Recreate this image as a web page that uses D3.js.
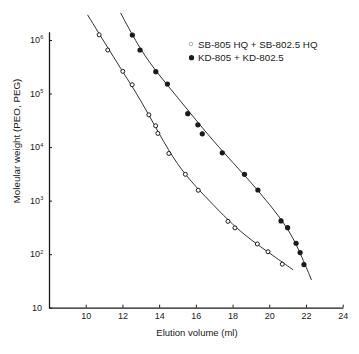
<!DOCTYPE html>
<html>
<head>
<meta charset="utf-8">
<script src="https://cdn.jsdelivr.net/npm/d3@7"></script>
<style>
  body { margin: 0; background: #fff; }
  text { font-family: "Liberation Sans", Arial, sans-serif; fill: #1a1a1a; }
</style>
</head>
<body>
<svg id="chart" width="359" height="354"></svg>
<script>
// measured points (elution volume ml, molecular weight)
const sbVolume = [10.73, 11.20, 12.02, 12.53, 13.44, 13.81, 13.93, 14.53, 15.43, 16.13, 17.75, 18.13, 19.35, 19.93, 20.71];
const sbWeight = [1.25e6, 6.5e5, 2.6e5, 1.46e5, 4.0e4, 2.5e4, 1.8e4, 7.6e3, 3.1e3, 1.56e3, 410, 310, 155, 111, 65];
const kdVolume = [12.54, 12.96, 13.82, 14.45, 15.56, 16.11, 16.35, 17.44, 18.65, 19.38, 20.64, 21.00, 21.46, 21.68, 21.89];
const kdWeight = [1.24e6, 6.5e5, 2.56e5, 1.5e5, 4.2e4, 2.6e4, 1.77e4, 7.8e3, 3.1e3, 1.58e3, 418, 313, 160, 107, 64];

// fitted calibration curves
const sbFitVolume = [10.1, 11.0, 12.0, 13.0, 14.0, 15.0, 16.0, 17.0, 18.0, 19.0, 20.0, 21.3];
const sbFitWeight = [2.95e6, 9.3e5, 2.6e5, 7.6e4, 1.75e4, 4.6e3, 1.8e3, 800, 355, 185, 105, 51];
const kdFitVolume = [11.9, 13.0, 14.0, 15.0, 16.0, 17.0, 18.0, 19.0, 20.0, 21.0, 21.6, 22.3];
const kdFitWeight = [3.2e6, 6.3e5, 2.2e5, 8.5e4, 3.2e4, 1.25e4, 5.2e3, 2.2e3, 870, 310, 125, 33];

const xTicks = [10, 12, 14, 16, 18, 20, 22, 24];
const yTicks = [10, 1e2, 1e3, 1e4, 1e5, 1e6];
const legendLabels = ["SB-805 HQ + SB-802.5 HQ", "KD-805 + KD-802.5"];

const svg = d3.select("#chart");
const ink = "#1a1a1a";

const x = d3.scaleLinear().domain([8, 24]).range([49, 342.7]);
const y = d3.scaleLog().domain([10, Math.pow(10, 6.155)]).range([307.7, 31.7]);

// x axis, ticks pointing inward
const xAxis = svg.append("g")
  .attr("transform", "translate(0,307.7)")
  .call(d3.axisBottom(x).tickValues(xTicks).tickSizeInner(-3).tickSizeOuter(0).tickPadding(8));
xAxis.select(".domain").attr("stroke", ink).attr("stroke-width", 1.3);
xAxis.selectAll(".tick line").attr("stroke", ink);
xAxis.selectAll(".tick text").attr("font-size", "9px").attr("dy", "0.35em").attr("y", 8);

// y axis with power-of-ten labels
const yAxis = svg.append("g")
  .attr("transform", "translate(49,0)")
  .call(d3.axisLeft(y).tickValues(yTicks).tickSizeInner(-3).tickSizeOuter(0).tickFormat(""));
yAxis.select(".domain").attr("stroke", ink).attr("stroke-width", 1.3);
yAxis.selectAll(".tick line").attr("stroke", ink);

yTicks.forEach(v => {
  const e = Math.round(Math.log10(v));
  svg.append("text")
    .attr("x", e === 1 ? 42 : 40)
    .attr("y", y(v) + 3.2)
    .attr("text-anchor", "end")
    .attr("font-size", "9px")
    .text("10");
  if (e > 1) {
    svg.append("text")
      .attr("x", 40.3)
      .attr("y", y(v) - 0.5)
      .attr("font-size", "5.5px")
      .text(e);
  }
});

// axis titles
svg.append("text")
  .attr("x", 197).attr("y", 336)
  .attr("text-anchor", "middle")
  .attr("font-size", "9.5px")
  .text("Elution volume (ml)");

svg.append("text")
  .attr("transform", "translate(20,141) rotate(-90)")
  .attr("text-anchor", "middle")
  .attr("font-size", "9.8px")
  .text("Moleular weight (PEO, PEG)");

// fitted curves
const line = d3.line()
  .x(d => x(d[0]))
  .y(d => y(d[1]))
  .curve(d3.curveBasis);

svg.append("path")
  .datum(d3.zip(sbFitVolume, sbFitWeight))
  .attr("d", line)
  .attr("fill", "none")
  .attr("stroke", ink)
  .attr("stroke-width", 0.9);

svg.append("path")
  .datum(d3.zip(kdFitVolume, kdFitWeight))
  .attr("d", line)
  .attr("fill", "none")
  .attr("stroke", ink)
  .attr("stroke-width", 0.9);

// data points
svg.selectAll(".sb")
  .data(d3.zip(sbVolume, sbWeight))
  .enter()
  .append("circle")
  .attr("class", "sb")
  .attr("cx", d => x(d[0]))
  .attr("cy", d => y(d[1]))
  .attr("r", 2)
  .attr("fill", "#fff")
  .attr("stroke", ink)
  .attr("stroke-width", 1);

svg.selectAll(".kd")
  .data(d3.zip(kdVolume, kdWeight))
  .enter()
  .append("circle")
  .attr("class", "kd")
  .attr("cx", d => x(d[0]))
  .attr("cy", d => y(d[1]))
  .attr("r", 2.6)
  .attr("fill", ink);

// legend
svg.append("circle").attr("cx", 191).attr("cy", 44).attr("r", 1.8)
  .attr("fill", "#fff").attr("stroke", "#999").attr("stroke-width", 0.8);
svg.append("circle").attr("cx", 191.5).attr("cy", 57.7).attr("r", 2.6).attr("fill", ink);
svg.append("text").attr("x", 198).attr("y", 47.5).attr("font-size", "9.8px").text(legendLabels[0]);
svg.append("text").attr("x", 198).attr("y", 61.3).attr("font-size", "9.8px").text(legendLabels[1]);
</script>
</body>
</html>
